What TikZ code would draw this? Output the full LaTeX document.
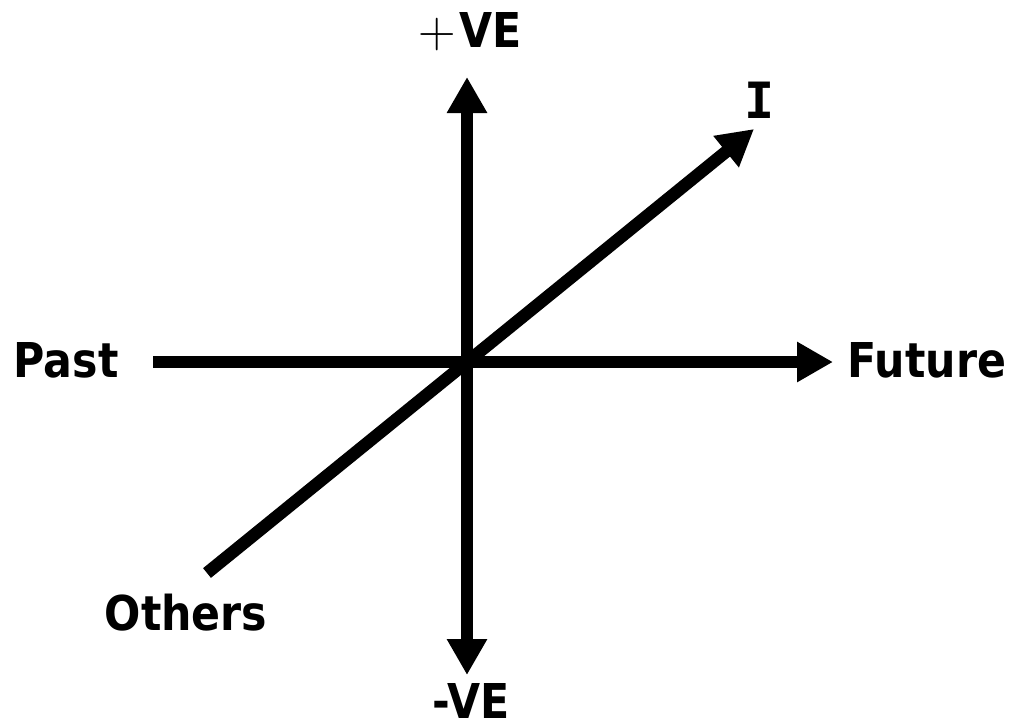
\documentclass[tikz,border=0pt]{standalone}
\usepackage{fontspec}
\usetikzlibrary{arrows.meta}
\newfontfamily\labfont{DejaVu Sans}[FakeStretch=0.89]
\newfontfamily\ifont{DejaVu Sans Mono}
\begin{document}
\begin{tikzpicture}[x=1pt,y=-1pt,
  axis/.style={line width=12.5pt,line cap=butt},
  arr/.style={axis,-{Triangle[length=36pt,width=38pt]}},
  lab/.style={inner sep=0pt,anchor=base,font=\fontsize{48}{50}\selectfont\labfont\bfseries}]
\useasboundingbox (0,0) rectangle (1009,724);
\coordinate (o) at (467,362);
\coordinate (left) at (153,362);
\coordinate (right) at (833,362);
\coordinate (top) at (467,77);
\coordinate (bot) at (467,675);
\coordinate (dl) at (207,573);
\coordinate (tr) at (754,129);
\draw[axis] (left) -- (o);
\draw[arr] (o) -- (right);
\draw[arr] (o) -- (top);
\draw[arr] (o) -- (bot);
\draw[axis] (dl) -- (o);
\draw[arr] (o) -- (tr);
\node[lab] (plus) at (470,47) {{\fontsize{52}{54}\selectfont\normalfont +}\kern4pt VE};
\node[lab] (minus) at (471,718) {-VE};
\node[lab] (past) at (66,377) {Past};
\node[lab] (future) at (927,377) {Future};
\node[lab] (others) at (186,630) {Others};
\node[lab,font=\fontsize{50}{52}\selectfont\ifont\bfseries] (i) at (760,118) {I};
\end{tikzpicture}
\end{document}
